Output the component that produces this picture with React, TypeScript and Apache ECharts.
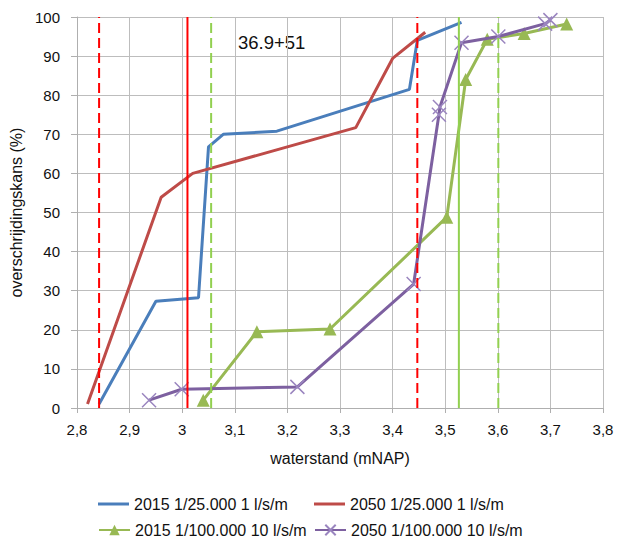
import React, { useEffect, useRef } from "react";
import * as echarts from "echarts";

// ---- data ----
const blueX = [2.842, 2.95, 3.031, 3.05, 3.078, 3.18, 3.432, 3.447, 3.531];
const blueY = [1, 27.3, 28.2, 66.8, 70, 70.8, 81.5, 94, 98.6];

const redX = [2.82, 2.96, 3.02, 3.33, 3.4, 3.462];
const redY = [1, 53.9, 60, 71.7, 89.4, 96.1];

const greenX = [3.04, 3.142, 3.281, 3.503, 3.539, 3.58, 3.65, 3.731];
const greenY = [2, 19.5, 20.2, 48.8, 84, 94.3, 95.8, 98.2];

const purpleX = [2.937, 2.999, 3.219, 3.44, 3.488, 3.49, 3.531, 3.601, 3.69, 3.7];
const purpleY = [2, 4.8, 5.4, 31.7, 75, 77, 93.4, 95, 98.3, 99.2];

const refRedDashed = [2.842, 3.447];
const refRedSolid = [3.01];
const refGreenDashed = [3.055, 3.601];
const refGreenSolid = [3.526];

const seriesNames = [
  "2015 1/25.000 1 l/s/m",
  "2050 1/25.000 1 l/s/m",
  "2015 1/100.000 10 l/s/m",
  "2050 1/100.000 10 l/s/m",
];
const annotation = "36.9+51";
const xAxisTitle = "waterstand (mNAP)";
const yAxisTitle = "overschrijdingskans (%)";

const FONT = "Liberation Sans, Arial, sans-serif";

const zip = (xs: number[], ys: number[]) => xs.map((x, i) => [x, ys[i]]);

export default function App() {
  const ref = useRef<HTMLDivElement>(null);
  useEffect(() => {
    if (!ref.current) return;
    const chart = echarts.init(ref.current, null, { renderer: "svg" });

    const refLine = (xs: number[], color: string, type: any) =>
      xs.map((x) => ({
        type: "line",
        data: [
          [x, 0],
          [x, 100],
        ],
        symbol: "none",
        silent: true,
        lineStyle: { color, width: 2, type },
        z: 5,
      }));

    const legendBase = {
      padding: 0,
      itemWidth: 31,
      itemHeight: 13,
      textStyle: { fontFamily: FONT, fontSize: 16, color: "#111" },
    };
    const lineLegend = { ...legendBase, icon: "rect", itemHeight: 3 };

    chart.setOption({
      animation: false,
      grid: { left: 77, right: 17, top: 17, bottom: 131 },
      graphic: [
        {
          type: "text",
          left: 238,
          top: 33,
          style: { text: annotation, font: `18.5px ${FONT}`, fill: "#111" },
        },
      ],
      legend: [
        { ...lineLegend, data: [seriesNames[0]], left: 98, top: 496 },
        { ...lineLegend, data: [seriesNames[1]], left: 314, top: 496 },
        { ...legendBase, data: [seriesNames[2]], left: 98, top: 522 },
        { ...legendBase, data: [seriesNames[3]], left: 314, top: 522 },
      ],
      xAxis: {
        type: "value",
        min: 2.8,
        max: 3.8,
        interval: 0.1,
        name: xAxisTitle,
        nameLocation: "middle",
        nameGap: 42,
        nameTextStyle: { fontFamily: FONT, fontSize: 16, color: "#111" },
        axisLine: { onZero: false, lineStyle: { color: "#AFAFAF" } },
        axisTick: { show: true, length: 5, lineStyle: { color: "#AFAFAF" } },
        axisLabel: {
          margin: 14,
          fontFamily: FONT,
          fontSize: 15,
          color: "#111",
          formatter: (v: number) => String(Math.round(v * 10) / 10).replace(".", ","),
        },
        splitLine: { show: true, lineStyle: { color: "#BDBDBD", width: 1 } },
      },
      yAxis: {
        type: "value",
        min: 0,
        max: 100,
        interval: 10,
        name: yAxisTitle,
        nameLocation: "middle",
        nameGap: 41,
        nameTextStyle: { fontFamily: FONT, fontSize: 16, color: "#111" },
        axisLine: { show: true, lineStyle: { color: "#AFAFAF" } },
        axisTick: { show: true, length: 6, lineStyle: { color: "#AFAFAF" } },
        axisLabel: { margin: 17, fontFamily: FONT, fontSize: 15, color: "#111" },
        splitLine: { show: true, lineStyle: { color: "#BDBDBD", width: 1 } },
      },
      series: [
        {
          name: seriesNames[0],
          type: "line",
          data: zip(blueX, blueY),
          symbol: "none",
          color: "#4A7EBB",
          lineStyle: { width: 3, color: "#4A7EBB" },
          z: 3,
        },
        {
          name: seriesNames[1],
          type: "line",
          data: zip(redX, redY),
          symbol: "none",
          color: "#BE4B48",
          lineStyle: { width: 3, color: "#BE4B48" },
          z: 3,
        },
        {
          name: seriesNames[2],
          type: "line",
          data: zip(greenX, greenY),
          symbol: "triangle",
          symbolSize: 13,
          color: "#98B954",
          itemStyle: { color: "#98B954" },
          lineStyle: { width: 3, color: "#98B954" },
          z: 3,
        },
        {
          name: seriesNames[3],
          type: "line",
          data: zip(purpleX, purpleY),
          symbol: "path://M0,0L20,20M20,0L0,20",
          symbolSize: 14,
          color: "#7D60A0",
          itemStyle: { color: "none", borderColor: "#9A85BF", borderWidth: 1.5 },
          lineStyle: { width: 3, color: "#7D60A0" },
          z: 4,
        },
        ...refLine(refRedDashed, "#FF0000", [10, 5]),
        ...refLine(refRedSolid, "#FF0000", "solid"),
        ...refLine(refGreenDashed, "#92D050", [10, 5]),
        ...refLine(refGreenSolid, "#92D050", "solid"),
      ],
    });
    return () => chart.dispose();
  }, []);
  return (
    <div
      ref={ref}
      style={{ position: "fixed", left: 0, top: 0, width: 620, height: 539, background: "#fff" }}
    />
  );
}
